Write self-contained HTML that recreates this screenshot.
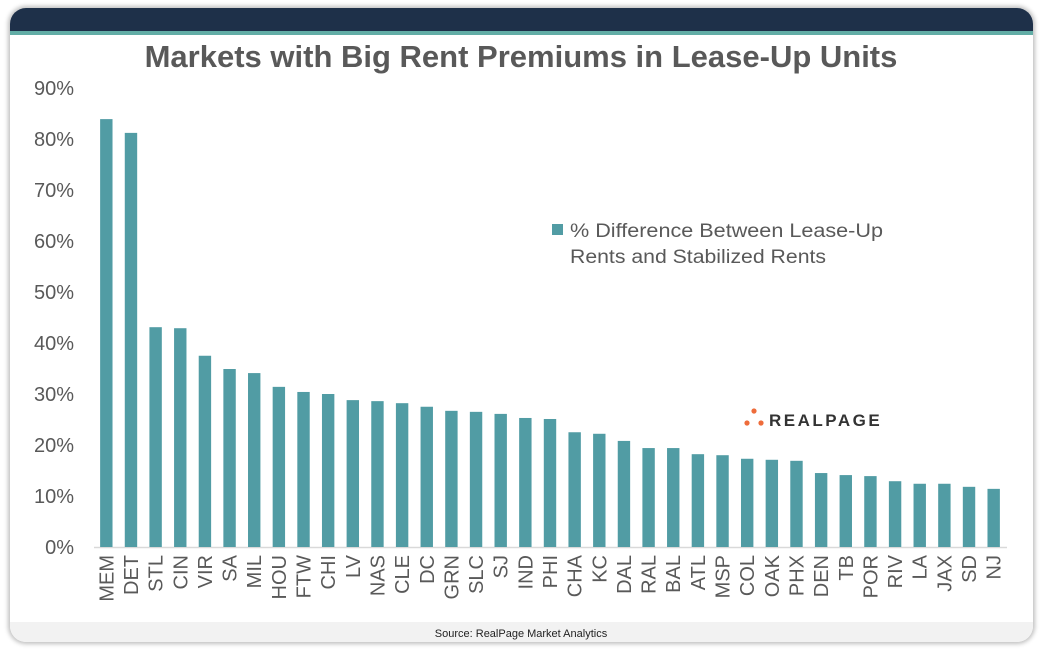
<!DOCTYPE html>
<html><head><meta charset="utf-8">
<style>
body{margin:0;width:1047px;height:653px;background:#fff;overflow:hidden;font-family:"Liberation Sans",sans-serif;}
#card{position:absolute;left:10px;top:8px;width:1023px;height:634px;border-radius:16px;background:#fff;box-shadow:0 0 4px 2px rgba(0,0,0,0.25);overflow:hidden;}
</style></head><body>
<div id="card">
<svg id="chart" width="1023" height="634" viewBox="10 8 1023 634"></svg>
</div>
<script>
const categories=["MEM","DET","STL","CIN","VIR","SA","MIL","HOU","FTW","CHI","LV","NAS","CLE","DC","GRN","SLC","SJ","IND","PHI","CHA","KC","DAL","RAL","BAL","ATL","MSP","COL","OAK","PHX","DEN","TB","POR","RIV","LA","JAX","SD","NJ"];
const values=[83.9,81.2,43.1,42.9,37.5,34.9,34.1,31.4,30.4,30.0,28.8,28.6,28.2,27.5,26.7,26.5,26.1,25.3,25.1,22.5,22.2,20.8,19.4,19.4,18.2,18.0,17.3,17.1,16.9,14.5,14.1,13.9,12.9,12.4,12.4,11.8,11.4];
const yTicks=[0,10,20,30,40,50,60,70,80,90];
const tickLabels=["0%","10%","20%","30%","40%","50%","60%","70%","80%","90%"];

const NS="http://www.w3.org/2000/svg";
const svg=document.getElementById('chart');
function mk(t,a,txt){const e=document.createElementNS(NS,t);for(const k in a)e.setAttribute(k,a[k]);if(txt!=null)e.textContent=txt;svg.appendChild(e);return e;}
const y0=547,y90=88;
function yScale(v){return y0-(v/90)*(y0-y90);}
const xL=94,xR=1006,step=(xR-xL)/categories.length;
function xScale(i){return xL+step*(i+0.5);}

let e;
e=mk('rect',{x:10,y:8,width:1023,height:26,fill:'#1e3049'});


e=mk('rect',{x:10,y:31,width:1023,height:4,fill:'#62ada6'});


e=mk('rect',{x:10,y:622,width:1023,height:20,fill:'#f2f2f2'});


e=mk('text',{x:521,y:67,'text-anchor':'middle','font-size':31,'font-weight':'bold',fill:'#595959'},'Markets with Big Rent Premiums in Lease-Up Units');



yTicks.forEach((t,i)=>{
  const el=mk('text',{x:74,y:yScale(t)+7,'text-anchor':'end','font-size':20,fill:'#595959'},tickLabels[i]);
  
  
});
e=mk('line',{x1:94,y1:547.5,x2:1007,y2:547.5,stroke:'#d9d9d9','stroke-width':1.5});



values.forEach((v,i)=>{
  const x=xScale(i),y=yScale(v);
  const r=mk('rect',{x:x-6.2,y:y,width:12.4,height:y0-y,fill:'#519ca4'});
  
  
  const t=mk('text',{x:0,y:0,transform:`translate(${x+7},555) rotate(-90)`,'text-anchor':'end','font-size':20,fill:'#595959'},categories[i]);
  
  
});

e=mk('rect',{x:552,y:224,width:11,height:11,fill:'#519ca4'});


e=mk('text',{x:570,y:237,'font-size':19,fill:'#595959',textLength:313,lengthAdjust:'spacingAndGlyphs'},'% Difference Between Lease-Up');


e=mk('text',{x:570,y:263,'font-size':19,fill:'#595959',textLength:256,lengthAdjust:'spacingAndGlyphs'},'Rents and Stabilized Rents');



[[754,411],[747,423],[761,423]].forEach(p=>{
  const c=mk('circle',{cx:p[0],cy:p[1],r:2.6,fill:'#ee6c3b'});
  
  
});
e=mk('text',{x:769,y:426,'font-size':17,'font-weight':'bold','letter-spacing':'2.5',fill:'#333'},'REALPAGE');


e=mk('text',{x:521,y:637,'text-anchor':'middle','font-size':11,fill:'#222'},'Source: RealPage Market Analytics');


</script>
</body></html>
